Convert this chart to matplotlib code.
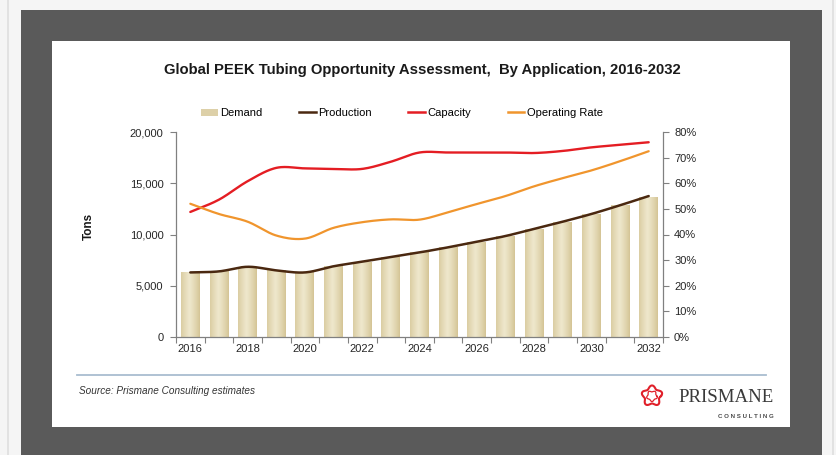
import numpy as np
import matplotlib
matplotlib.use('Agg')
import matplotlib.pyplot as plt
from matplotlib.colors import LinearSegmentedColormap
from matplotlib.patches import Rectangle, Patch
from matplotlib.lines import Line2D
from matplotlib.ticker import FuncFormatter

plt.rcParams['font.family'] = ['Liberation Sans', 'DejaVu Sans']

# ---------------- data ----------------
years = list(range(2016, 2033))
demand = [6300, 6400, 6800, 6500, 6300, 6900, 7350, 7800, 8250, 8750,
          9300, 9850, 10550, 11250, 12000, 12850, 13700]
production = [6300, 6400, 6850, 6500, 6300, 6900, 7350, 7800, 8250, 8750,
              9300, 9850, 10550, 11250, 12000, 12850, 13750]
capacity = [12200, 13400, 15200, 16500, 16450, 16400, 16400, 17100, 18000, 18000,
            18000, 18000, 17950, 18150, 18500, 18750, 19000]
operating_rate = [52.0, 48.0, 45.0, 39.6, 38.4, 42.6, 44.8, 45.9, 45.8, 48.7,
                  51.9, 55.0, 58.8, 62.0, 65.0, 68.6, 72.5]
tick_labels = [str(y) if (y - 2016) % 2 == 0 else '' for y in years]

W, H = 836, 455
fig = plt.figure(figsize=(W / 100, H / 100), dpi=100)
fig.patch.set_facecolor('#f5f5f5')

# background / frame (pixel coordinates, origin top-left)
bg = fig.add_axes([0, 0, 1, 1], zorder=0)
bg.set_xlim(0, W)
bg.set_ylim(H, 0)
bg.axis('off')
bg.add_patch(Rectangle((7, 0), 1.5, H, color='#e2e2e2', lw=0))
bg.add_patch(Rectangle((832, 0), 1.5, H, color='#e2e2e2', lw=0))
bg.add_patch(Rectangle((21, 10), 801, H - 10, color='#5a5a5a', lw=0))
bg.add_patch(Rectangle((52, 41), 738, 386, color='white', lw=0))
bg.plot([77, 766], [375, 375], color='#a9bdd0', lw=1.3)


def smooth(xv, yv, n=24):
    x = np.asarray(xv, float)
    y = np.asarray(yv, float)
    px = np.concatenate([[2 * x[0] - x[1]], x, [2 * x[-1] - x[-2]]])
    py = np.concatenate([[2 * y[0] - y[1]], y, [2 * y[-1] - y[-2]]])
    ox, oy = [], []
    t = np.linspace(0, 1, n, endpoint=False)
    for i in range(1, len(px) - 2):
        p0 = np.array([px[i], py[i]])
        p3 = np.array([px[i + 1], py[i + 1]])
        c1 = p0 + (p3 - np.array([px[i - 1], py[i - 1]])) / 6
        c2 = p3 - (np.array([px[i + 2], py[i + 2]]) - p0) / 6
        b = ((1 - t) ** 3)[:, None] * p0 + (3 * (1 - t) ** 2 * t)[:, None] * c1 + \
            (3 * (1 - t) * t ** 2)[:, None] * c2 + (t ** 3)[:, None] * p3
        ox.extend(b[:, 0]); oy.extend(b[:, 1])
    ox.append(x[-1]); oy.append(y[-1])
    return np.array(ox), np.array(oy)


ax = fig.add_axes([176 / W, (H - 337) / H, (663 - 176) / W, (337 - 132) / H], zorder=1)
ax.patch.set_alpha(0)
xpos = np.arange(len(years))
bw = 0.66
bars = ax.bar(xpos, demand, width=bw, color='#ddd0a8', zorder=1)
cmap = LinearSegmentedColormap.from_list('tan', ['#d3c393', '#efe8cd'])
g = np.linspace(0, 1, 64)
grad = (1 - np.abs(g - 0.45) / 0.55) ** 0.8
for rect in bars:
    im = ax.imshow(grad[None, :], cmap=cmap, vmin=0, vmax=1, aspect='auto',
                   extent=[rect.get_x(), rect.get_x() + rect.get_width(), 0, rect.get_height()],
                   zorder=1.5, interpolation='bicubic')
    im.set_clip_path(rect)

sx, sy = smooth(xpos, production)
ax.plot(sx, sy, color='#4a2810', lw=1.8, zorder=3, solid_capstyle='round')
sx, sy = smooth(xpos, capacity)
ax.plot(sx, sy, color='#e41d23', lw=1.7, zorder=3, solid_capstyle='round')

ax.set_xlim(-0.5, 16.5)
ax.set_ylim(0, 20000)
ax.set_yticks([0, 5000, 10000, 15000, 20000])
ax.yaxis.set_major_formatter(FuncFormatter(lambda v, p: f'{v:,.0f}'))
ax.set_xticks(np.arange(-0.5, 17, 1))
ax.set_xticklabels([])
ax.set_xticks(xpos, labels=tick_labels, minor=True)
ax.tick_params(axis='x', which='major', length=4, width=0.8, color='#808080', direction='out')
ax.tick_params(axis='x', which='minor', length=0, pad=5, labelsize=8, labelcolor='#262626')
ax.tick_params(axis='y', length=4, width=0.8, color='#808080', pad=5, labelsize=8, labelcolor='#262626')
for s in ['left', 'bottom']:
    ax.spines[s].set_color('#808080'); ax.spines[s].set_linewidth(0.9)
for s in ['top', 'right']:
    ax.spines[s].set_visible(False)

ax2 = ax.twinx()
ax2.set_zorder(2)
sx, sy = smooth(xpos, operating_rate)
ax2.plot(sx, sy, color='#f0952d', lw=1.6, zorder=3, solid_capstyle='round')
ax2.set_ylim(0, 80)
ax2.set_yticks(np.arange(0, 81, 10))
ax2.yaxis.set_major_formatter(FuncFormatter(lambda v, p: f'{v:.0f}%'))
ax2.tick_params(axis='y', length=4, width=0.8, color='#808080', pad=4, labelsize=8, labelcolor='#262626')
for s in ['left', 'bottom', 'top']:
    ax2.spines[s].set_visible(False)
ax2.spines['right'].set_color('#808080'); ax2.spines['right'].set_linewidth(0.9)

handles = [Patch(facecolor='#ddd0a8', edgecolor='none'),
           Line2D([], [], color='#4a2810', lw=1.8),
           Line2D([], [], color='#e41d23', lw=1.8),
           Line2D([], [], color='#f0952d', lw=1.8)]
fig.legend(handles, ['Demand', 'Production', 'Capacity', 'Operating Rate'],
           loc='center', bbox_to_anchor=(402 / W, 1 - 113 / H), ncol=4, frameon=False,
           fontsize=8, handlelength=1.5, handletextpad=0.2, columnspacing=3.3,
           handleheight=0.6)

title = bg.text(422, 70, 'Global PEEK Tubing Opportunity Assessment,  By Application, 2016-2032',
                ha='center', va='center', fontsize=10, fontweight='bold', color='#1a1a1a')
bg.text(89, 226, 'Tons', rotation=90, ha='center', va='center', fontsize=8.5,
        fontweight='bold', color='#1a1a1a')
src = bg.text(79, 391, 'Source: Prismane Consulting estimates', ha='left', va='center',
              fontsize=7, style='italic', color='#333333')
logo = bg.text(774, 398, 'PRISMANE', ha='right', va='center', fontsize=14,
               family=['Liberation Serif', 'DejaVu Serif'], color='#3a3a3a')
cons = bg.text(774, 416.5, 'C O N S U L T I N G', ha='right', va='center', fontsize=5,
               fontweight='bold', color='#4a4a4a')

# logo icon: red flower-star outline
th = np.linspace(0, 2 * np.pi, 400)
r = 9.0 * (1 + 0.17 * np.cos(5 * (th - np.pi / 2)))
bg.plot(652 + r * np.cos(th), 396 - r * np.sin(th), color='#e0202a', lw=1.5)
r2 = 4.8 * (1 - 0.15 * np.cos(5 * (th - np.pi / 2)))
bg.plot(652 + r2 * np.cos(th), 396 - r2 * np.sin(th), color='#e0202a', lw=0.9)

fig.canvas.draw()
rend = fig.canvas.get_renderer()
for t, target in [(title, 518), (src, 175), (logo, 96), (cons, 56)]:
    w = t.get_window_extent(rend).width
    t.set_fontsize(t.get_fontsize() * target / w)

fig.savefig('out.png', dpi=100, facecolor=fig.get_facecolor())
